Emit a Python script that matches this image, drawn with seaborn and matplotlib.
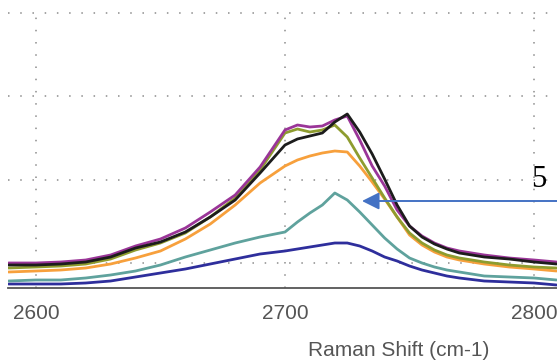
import numpy as np
import pandas as pd
import matplotlib
matplotlib.use("Agg")
import matplotlib.pyplot as plt
import seaborn as sns
from matplotlib.ticker import MultipleLocator

# ---- data (Raman shift, cm-1) ----
shift = [2589, 2600, 2610, 2620, 2630, 2640, 2650, 2660, 2670, 2680, 2690, 2700,
         2705, 2710, 2715, 2720, 2725, 2730, 2735, 2740, 2745, 2750, 2755, 2760,
         2765, 2770, 2780, 2790, 2800, 2809]

purple = [1000, 1000, 1012, 1036, 1096, 1204, 1288, 1420, 1612, 1816, 2152, 2596,
          2656, 2632, 2644, 2716, 2764, 2476, 2164, 1924, 1636, 1444, 1324, 1240,
          1180, 1144, 1096, 1060, 1036, 1012]
black = [976, 976, 988, 1012, 1072, 1180, 1252, 1372, 1552, 1756, 2080, 2416,
         2488, 2524, 2560, 2692, 2788, 2572, 2308, 2008, 1696, 1444, 1312, 1228,
         1168, 1120, 1072, 1048, 1012, 988]
olive = [940, 952, 964, 988, 1048, 1156, 1240, 1360, 1552, 1780, 2116, 2560,
         2608, 2572, 2596, 2656, 2512, 2260, 2020, 1780, 1552, 1360, 1240, 1156,
         1096, 1060, 1012, 976, 952, 940]
orange = [892, 904, 916, 940, 988, 1060, 1144, 1288, 1468, 1696, 1960, 2164,
          2236, 2284, 2320, 2344, 2332, 2164, 1972, 1768, 1552, 1336, 1216, 1132,
          1072, 1036, 988, 952, 928, 904]
teal = [784, 796, 796, 820, 856, 904, 976, 1072, 1156, 1240, 1312, 1372,
        1492, 1600, 1696, 1840, 1756, 1612, 1456, 1300, 1168, 1060, 1000, 952,
        916, 892, 844, 832, 820, 796]
blue = [748, 748, 748, 760, 784, 832, 880, 928, 988, 1048, 1108, 1144,
        1168, 1192, 1216, 1240, 1240, 1204, 1144, 1072, 1024, 964, 916, 880,
        844, 820, 784, 772, 760, 736]

series_names = ["blue", "teal", "orange", "olive", "purple", "black"]
series_values = [blue, teal, orange, olive, purple, black]
series_colors = ["#2E2E9C", "#5FA29D", "#F7A03C", "#8E9C2F", "#9A3598", "#1C1C1C"]

xticks_major = [2600, 2700, 2800]
xtick_labels = ["2600", "2700", "2800"]
xlabel = "Raman Shift (cm-1)"
annot_label = "5"

rows = []
for name, vals in zip(series_names, series_values):
    for x, v in zip(shift, vals):
        rows.append({"shift": x, "intensity": v, "sample": name})
df = pd.DataFrame(rows)

sns.set_theme(style="white")
plt.rcParams["font.family"] = ["Liberation Sans", "DejaVu Sans"]

fig = plt.figure(figsize=(5.57, 3.60), dpi=100)
ax = fig.add_axes([8 / 557, 0.2, 1 - 8 / 557, 278 / 360])

sns.lineplot(data=df, x="shift", y="intensity", hue="sample",
             hue_order=series_names, palette=series_colors,
             linewidth=2.0, legend=False, ax=ax, zorder=3)

ymin, ymax = 700, 4036
ax.set_xlim(2588.8, 2809.2)
ax.set_ylim(ymin, ymax)
ax.set_xticks(xticks_major)
ax.set_xticklabels(xtick_labels)
ax.xaxis.set_minor_locator(MultipleLocator(20))
ax.set_yticks([1000, 2000, 3000, 4000])
ax.set_yticklabels([])
ax.tick_params(axis="y", length=0)
ax.tick_params(axis="x", which="major", direction="inout", length=7.5, width=1,
               color="#333333", labelsize=15, labelcolor="#555555", pad=8)
ax.tick_params(axis="x", which="minor", direction="inout", length=5, width=1,
               color="#333333")
ax.set_xlabel("")
ax.set_ylabel("")

for s in ["top", "right", "left"]:
    ax.spines[s].set_visible(False)
ax.spines["bottom"].set_color("#555555")
ax.spines["bottom"].set_linewidth(1.3)
ax.spines["bottom"].set_zorder(4)

ax.grid(True, which="major", axis="both", linestyle=(0, (1, 7)),
        color="#8C8C8C", linewidth=1.1)
ax.set_axisbelow(True)

fig.text(399 / 557, 1 - 350 / 360, xlabel, ha="center", va="center",
         fontsize=15, color="#555555")

fig.text(531 / 557, 1 - 187 / 360, annot_label, ha="left", va="baseline",
         fontsize=22, color="black", family=["Liberation Serif", "DejaVu Serif"])

ax.annotate("", xy=(2730.9, 1744), xycoords="data",
            xytext=(1.03, (1744 - ymin) / (ymax - ymin)), textcoords="axes fraction",
            arrowprops=dict(arrowstyle="-|>,head_length=0.4,head_width=0.2",
                            color="#4472C4", lw=1.4, mutation_scale=26,
                            shrinkA=0, shrinkB=0),
            annotation_clip=False, zorder=5)

fig.savefig("out.png", dpi=100)
